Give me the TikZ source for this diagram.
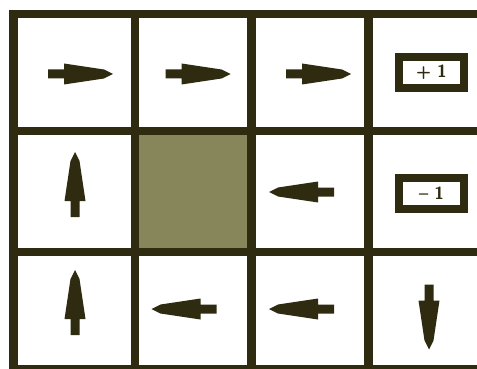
\documentclass[tikz,border=0pt]{standalone}
\usepackage{tikz}
\usetikzlibrary{positioning}
\definecolor{darkline}{RGB}{46,43,16}
\definecolor{wallfill}{RGB}{135,134,90}

\begin{document}
\begin{tikzpicture}[x=0.03cm,y=-0.03cm,
  gridln/.style={line width=0.255cm,color=darkline},
  term/.style={draw=darkline,line width=0.24cm,fill=white,
               minimum width=1.95cm,minimum height=0.93cm,inner sep=0pt,
               font=\sffamily\bfseries\fontsize{15}{15}\selectfont,text=darkline},
  policy/.pic={
    \fill[darkline] (-32,-4.5) -- (-16,-4.5) -- (-16,-10.5) -- (24,-4.5)
      -- (33,0) -- (24,4.5) -- (-16,10.5) -- (-16,4.5) -- (-32,4.5) -- cycle;
  }]
\useasboundingbox (0,0) rectangle (477,369);
\fill[white] (0,0) rectangle (477,369);
% blocked cell
\fill[wallfill] (139,135) rectangle (247,248);
% grid
\foreach \gx in {13.5,135,251.5,368.5}
  \draw[gridln] (\gx,10) -- (\gx,375);
\foreach \gy in {14,131,252,369}
  \draw[gridln] (9,\gy) -- (480,\gy);
% terminal states
\node[term](goal) at (431.5,72.5) {+\,\,1};
\node[term](pit)  at (431.5,193.5) {\textendash\,\,1};
% policy arrows
\pic at (80,74)    {policy};
\pic at (197.5,74) {policy};
\pic at (318,74)   {policy};
\pic[rotate=90]  at (75,185)    {policy};
\pic[rotate=180] at (302,192)   {policy};
\pic[rotate=90]  at (75,303)    {policy};
\pic[rotate=180] at (184.5,309) {policy};
\pic[rotate=180] at (302,309)   {policy};
\pic[rotate=-90] at (429,316.5) {policy};
\end{tikzpicture}
\end{document}
